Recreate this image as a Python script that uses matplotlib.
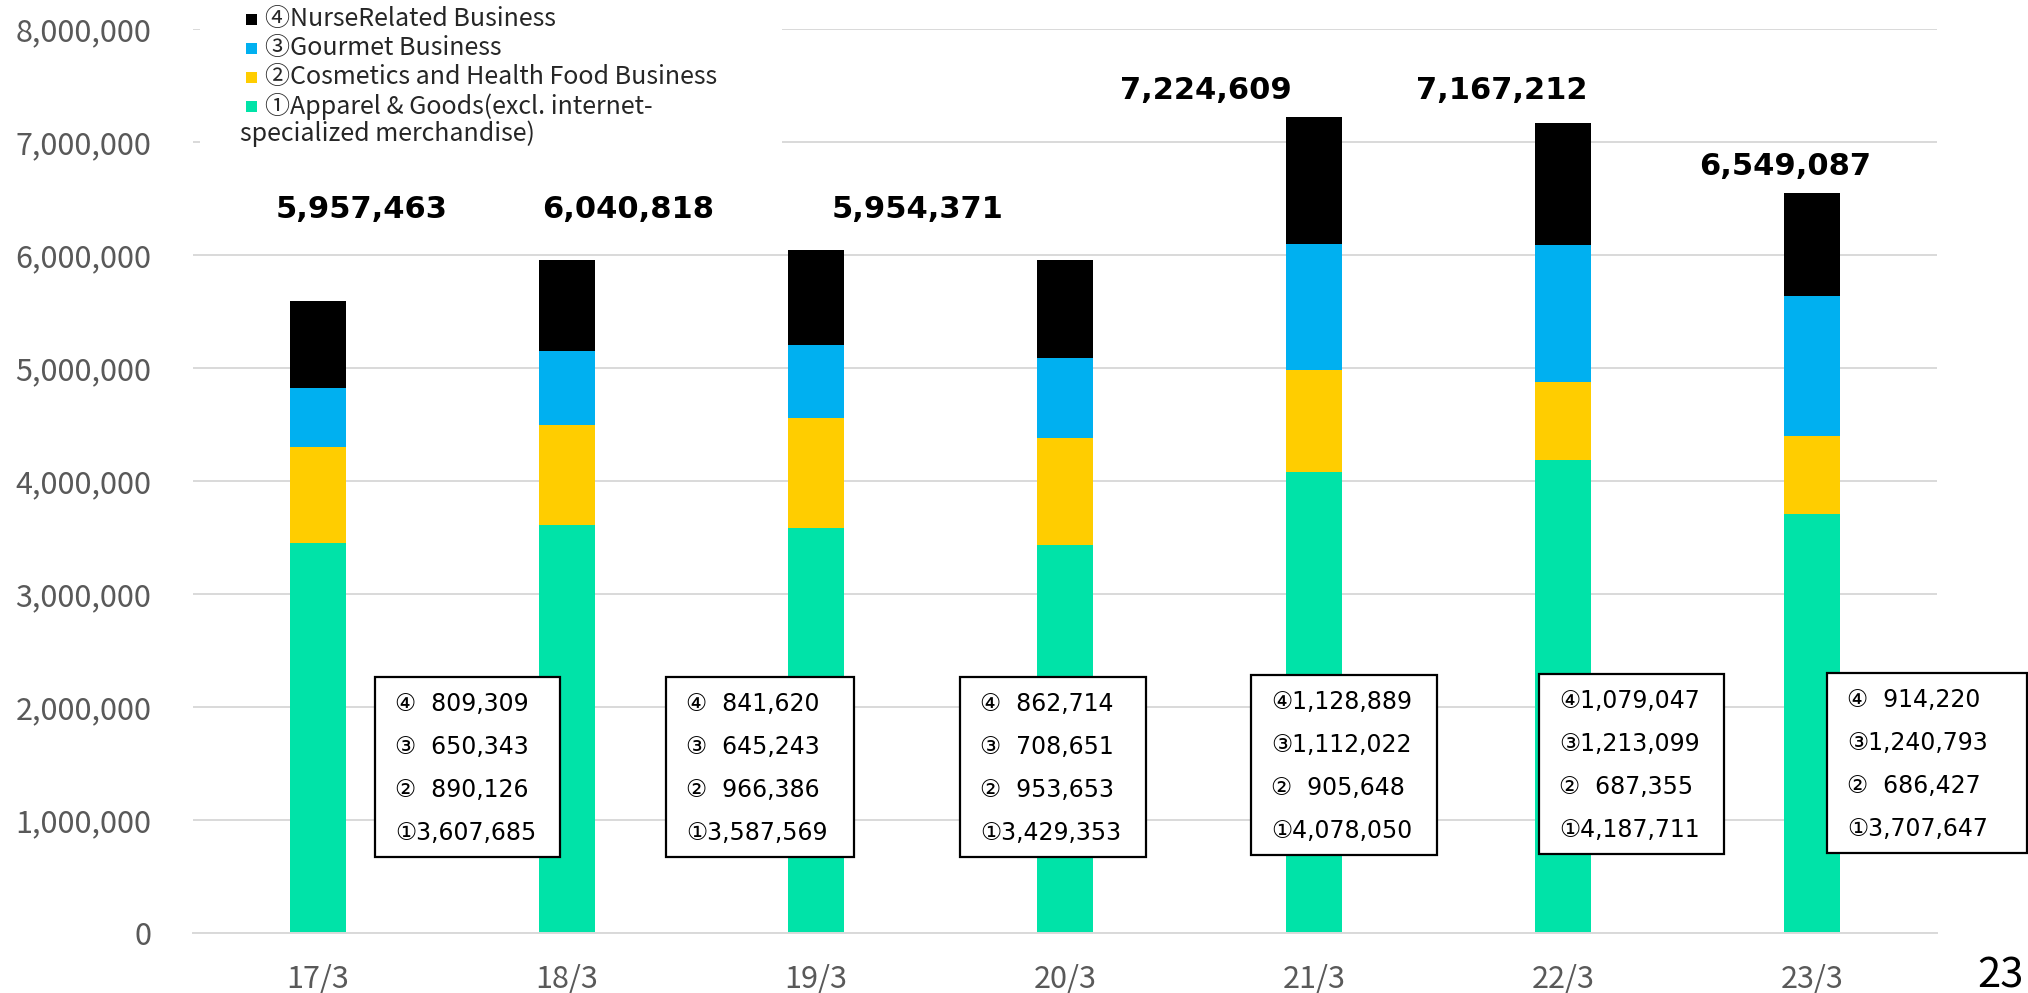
import matplotlib
matplotlib.use('Agg')
import numpy as np
from matplotlib import pyplot as plt
from matplotlib.patches import Rectangle

# 事業別売上高（千円）
years     = ['17/3', '18/3', '19/3', '20/3', '21/3', '22/3', '23/3']
apparel   = [3448000, 3607685, 3587569, 3429353, 4078050, 4187711, 3707647]
cosmetics = [849000, 890126, 966386, 953653, 905648, 687355, 686427]
gourmet   = [522000, 650343, 645243, 708651, 1112022, 1213099, 1240793]
nurse     = [778000, 809309, 841620, 862714, 1128889, 1079047, 914220]

legend_labels = ['④NurseRelated Business', '③Gourmet Business',
                 '②Cosmetics and Health Food Business',
                 '①Apparel & Goods(excl. internet-']
legend_tail = 'specialized merchandise)'
marks = ['①', '②', '③', '④']
page_no = '23'

colors = ['#00E3A8', '#FFCD00', '#00B0F0', '#000000']
tick_color = '#595959'
grid_color = '#D9D9D9'

plt.rcParams['font.family'] = ['Noto Sans CJK JP', 'DejaVu Sans']

W, H = 2028, 993
fig = plt.figure(figsize=(W / 100, H / 100), dpi=100)

def fx(px):
    return px / W

def fy(py):
    return 1 - py / H

ax = fig.add_axes([fx(193), fy(933), (1937 - 193) / W, (933 - 29) / H])

# 積み上げ棒
x = np.arange(len(years))
bottom = np.zeros(len(years))
for vals, c in zip([apparel, cosmetics, gourmet, nurse], colors):
    ax.bar(x, vals, 0.225, bottom=bottom, color=c, zorder=2)
    bottom += np.array(vals)
totals = bottom

ax.set_xlim(-0.5, 6.5)
ax.set_ylim(0, 8000000)
ax.set_yticks(np.arange(0, 8000001, 1000000))
ax.set_yticklabels([f'{v:,}' for v in range(0, 8000001, 1000000)])
ax.set_xticks(x)
ax.set_xticklabels(years)
ax.tick_params(length=0, labelsize=22, colors=tick_color)
ax.tick_params(axis='y', pad=30)
ax.tick_params(axis='x', pad=22)
ax.yaxis.grid(True, color=grid_color, lw=1.4)
ax.set_axisbelow(True)
for s in ['top', 'right', 'left']:
    ax.spines[s].set_visible(False)
ax.spines['bottom'].set_color(grid_color)
ax.spines['bottom'].set_linewidth(1.4)

# 合計ラベル（18/3以降）
total_pos = [(0.177, 6.40e6), (1.245, 6.40e6), (2.41, 6.40e6),
             (3.566, 7.46e6), (4.755, 7.46e6), (5.89, 6.78e6)]
for i, (tx, ty) in enumerate(total_pos, start=1):
    ax.text(tx, ty, f'{int(totals[i]):,}', ha='center', va='center',
            fontsize=22, fontweight='bold', family='DejaVu Sans')

# 内訳ボックス
box_left = [375, 666, 960, 1251, 1539, 1827]
box_width = [185, 188, 186, 186, 185, 200]
box_top = [677, 677, 677, 675, 674, 673]
box_h = 180
for k in range(6):
    i = k + 1
    l, w, t = box_left[k], box_width[k], box_top[k]
    fig.patches.append(Rectangle((fx(l), fy(t + box_h)), w / W, box_h / H,
                                 transform=fig.transFigure, facecolor='white',
                                 edgecolor='black', lw=1.6, zorder=3))
    vals = [nurse[i], gourmet[i], cosmetics[i], apparel[i]]
    for j, (m, v) in enumerate(zip(marks[::-1], vals)):
        s = f'{m}{v:,}' if v >= 1000000 else f'{m}  {v:,}'
        fig.text(fx(l + 20), fy(t + 27 + 43 * j), s, ha='left', va='center',
                 fontsize=17, family=['DejaVu Sans', 'Noto Sans CJK JP'],
                 zorder=4)

# 凡例
fig.patches.append(Rectangle((fx(200), fy(152)), (782 - 200) / W, 152 / H,
                             transform=fig.transFigure, facecolor='white',
                             edgecolor='none', zorder=1))
rows = [19, 48, 77, 106]
for lab, c, ry in zip(legend_labels, colors[::-1], rows):
    fig.patches.append(Rectangle((fx(246), fy(ry + 6)), 11 / W, 11 / H,
                                 transform=fig.transFigure, facecolor=c,
                                 edgecolor='none', zorder=2))
    fig.text(fx(265), fy(ry), lab, ha='left', va='center', fontsize=18,
             color='#262626')
fig.text(fx(240), fy(134), legend_tail, ha='left', va='center', fontsize=18,
         color='#262626')

fig.text(fx(2024), fy(976), page_no, ha='right', va='center', fontsize=30)

fig.savefig('out.png', dpi=100)
